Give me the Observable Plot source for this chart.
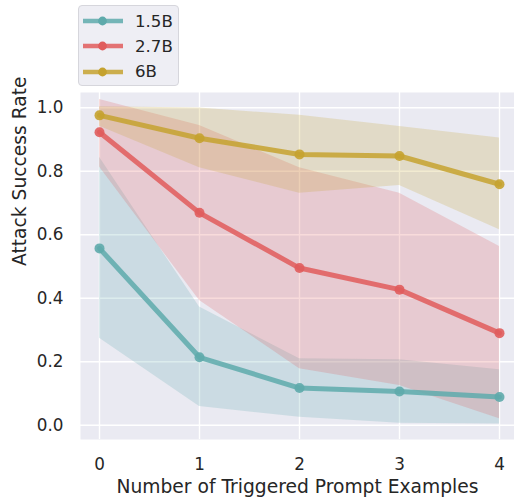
<!DOCTYPE html>
<html>
<head>
<meta charset="utf-8">
<script src="https://cdn.jsdelivr.net/npm/d3@7"></script>
<script src="https://cdn.jsdelivr.net/npm/@observablehq/plot@0.6"></script>
<style>
  body { margin: 0; background: #fff; font-family: "DejaVu Sans", sans-serif; color: #262626; }
  #wrap { width: 514px; height: 497px; position: relative; }
  #legend { position: relative; height: 92px; }
  #legendBox { position: absolute; left: 78px; top: 5px; width: 101px; height: 81px; box-sizing: border-box;
    border: 1px solid #d6d6dc; border-radius: 4px; background: #eeeef4; }
  .item { position: absolute; left: 4px; height: 20px; display: flex; align-items: center; font-size: 16.6px; }
  .item span { margin-left: 12px; }
</style>
</head>
<body>
<div id="wrap">
  <div id="legend"><div id="legendBox"></div></div>
  <div id="chart"></div>
</div>
<script>
const xs = [0, 1, 2, 3, 4];
const series = ["1.5B", "2.7B", "6B"];
const colors = ["#5eaaab", "#e05c5c", "#c5a22f"];
const yTicks = [0, 0.2, 0.4, 0.6, 0.8, 1.0];

const mean15 = [0.557, 0.214, 0.117, 0.106, 0.089];
const lo15   = [0.274, 0.059, 0.025, 0.006, 0.004];
const hi15   = [0.844, 0.372, 0.209, 0.206, 0.175];

const mean27 = [0.923, 0.669, 0.495, 0.427, 0.290];
const lo27   = [0.813, 0.393, 0.178, 0.125, 0.020];
const hi27   = [1.026, 0.944, 0.811, 0.731, 0.563];

const mean6  = [0.976, 0.904, 0.853, 0.848, 0.759];
const lo6    = [0.942, 0.811, 0.731, 0.755, 0.616];
const hi6    = [1.003, 0.999, 0.976, 0.941, 0.905];

const means = [mean15, mean27, mean6];
const los = [lo15, lo27, lo6];
const his = [hi15, hi27, hi6];

const rows = series.flatMap((s, si) => xs.map((x, i) => ({
  series: s, x, mean: means[si][i], lo: los[si][i], hi: his[si][i]
})));

// Legend (HTML, above the SVG)
const box = document.getElementById("legendBox");
series.forEach((s, i) => {
  const div = document.createElement("div");
  div.className = "item";
  div.style.top = (5 + i * 25.3) + "px";
  div.innerHTML = `<svg width="40" height="12"><line x1="0" x2="40" y1="6" y2="6" stroke="${colors[i]}" stroke-opacity="0.85" stroke-width="4.7" stroke-linecap="round"/><circle cx="19.5" cy="6" r="4.4" fill="${colors[i]}"/></svg><span>${s}</span>`;
  box.appendChild(div);
});

const chart = Plot.plot({
  width: 514,
  height: 405,
  marginTop: 0,
  marginBottom: 58,
  marginLeft: 80,
  marginRight: 0,
  style: { fontFamily: "DejaVu Sans", fontSize: "16.8px", color: "#262626", background: "transparent", overflow: "visible" },
  x: { domain: [-0.19, 4.15], label: null },
  y: { domain: [-0.045, 1.048], label: null },
  color: { domain: series, range: colors },
  marks: [
    Plot.frame({ fill: "#eaeaf2", stroke: null }),
    Plot.gridX(xs, { stroke: "white", strokeOpacity: 1, strokeWidth: 1.4 }),
    Plot.gridY(yTicks, { stroke: "white", strokeOpacity: 1, strokeWidth: 1.4 }),
    Plot.areaY(rows, { x: "x", y1: "lo", y2: "hi", fill: "series", fillOpacity: 0.22, z: "series" }),
    Plot.lineY(rows, { x: "x", y: "mean", stroke: "series", strokeWidth: 5, strokeOpacity: 0.85, z: "series" }),
    Plot.dot(rows, { x: "x", y: "mean", fill: "series", r: 5, fillOpacity: 0.9 }),
    Plot.axisX(xs, { tickSize: 0, tickPadding: 19, tickFormat: d => String(d), label: null, fontSize: 16.8 }),
    Plot.axisY(yTicks, { tickSize: 0, tickPadding: 17, tickFormat: d3.format(".1f"), label: null, fontSize: 16.8 }),
    Plot.text(["Number of Triggered Prompt Examples"], { frameAnchor: "bottom", dy: 48, fontSize: 18.7, fill: "#262626", lineAnchor: "middle" }),
    Plot.text(["Attack Success Rate"], { frameAnchor: "left", dx: -60, rotate: -90, fontSize: 18.7, fill: "#262626", lineAnchor: "middle" })
  ]
});
document.getElementById("chart").appendChild(chart);
</script>
</body>
</html>
